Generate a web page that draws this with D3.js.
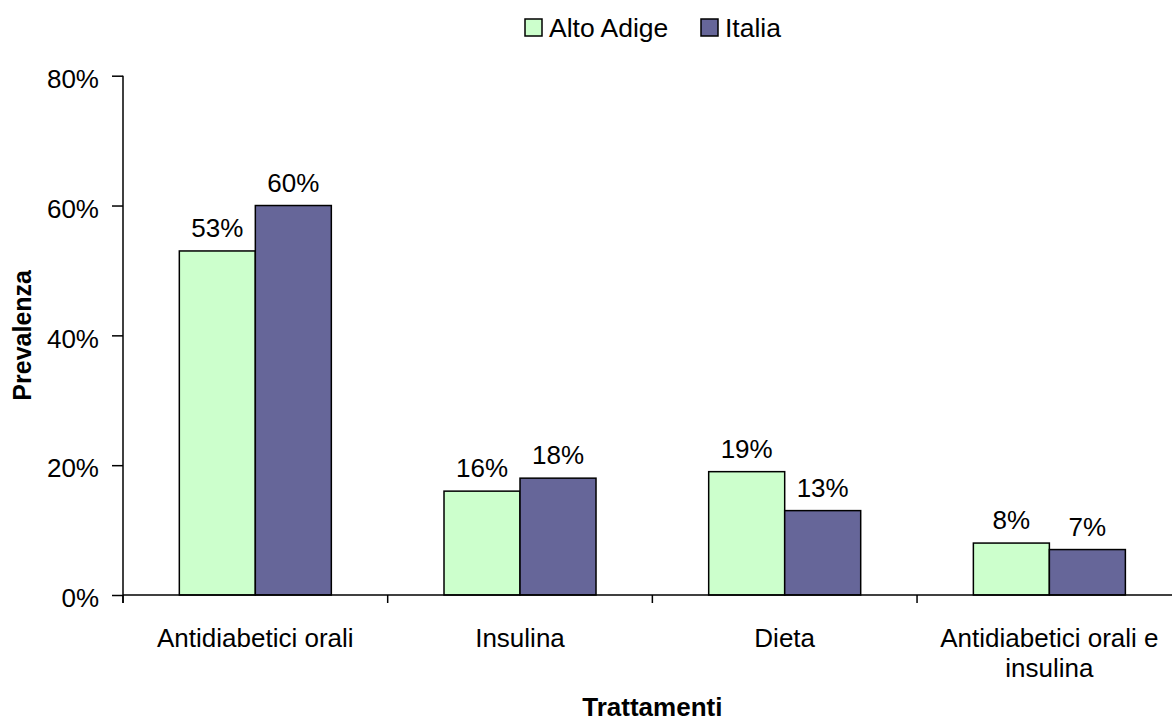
<!DOCTYPE html>
<html>
<head>
<meta charset="utf-8">
<script src="https://cdn.jsdelivr.net/npm/d3@7"></script>
<style>
  html, body { margin: 0; padding: 0; background: #fff; }
  svg { display: block; font-family: "Liberation Sans", Arial, sans-serif; }
</style>
</head>
<body>
<svg id="chart" width="1172" height="725"></svg>
<script>
// Treatment categories and their axis labels (wrapped as drawn)
const categories = ["Antidiabetici orali", "Insulina", "Dieta", "Antidiabetici orali e insulina"];
const categoryLabels = [["Antidiabetici orali"], ["Insulina"], ["Dieta"], ["Antidiabetici orali e", "insulina"]];

// Series
const seriesNames = ["Alto Adige", "Italia"];
const altoAdige = [0.53, 0.16, 0.19, 0.08];
const italia = [0.60, 0.18, 0.13, 0.07];
const seriesColors = ["#CCFFCC", "#666699"];

// Y ticks
const yTicks = [0, 0.2, 0.4, 0.6, 0.8];

(function draw() {
  const seriesValues = [altoAdige, italia];
  const rows = categories.map((c, i) => ({
    category: c,
    values: seriesNames.map((s, j) => ({ series: s, value: seriesValues[j][i], color: seriesColors[j] }))
  }));

  const svg = d3.select("#chart");
  const fontSize = 26;
  const plotLeft = 123, plotRight = 1181.7, plotTop = 75.7, plotBottom = 595;

  const x = d3.scaleBand()
    .domain(categories)
    .range([plotLeft, plotRight])
    .paddingInner(0.4257)
    .paddingOuter(0.2128);

  const xInner = d3.scaleBand()
    .domain(seriesNames)
    .range([0, x.bandwidth()]);

  const y = d3.scaleLinear().domain([0, 0.8]).range([plotBottom, plotTop]);

  const pct = d3.format(".0%");

  // Bars
  const groups = svg.append("g").selectAll("g")
    .data(rows)
    .join("g")
    .attr("transform", d => `translate(${x(d.category)},0)`);

  groups.selectAll("rect")
    .data(d => d.values)
    .join("rect")
    .attr("x", d => xInner(d.series))
    .attr("y", d => y(d.value))
    .attr("width", xInner.bandwidth())
    .attr("height", d => y(0) - y(d.value))
    .attr("fill", d => d.color)
    .attr("stroke", "#000")
    .attr("stroke-width", 1.5);

  // Value labels
  groups.selectAll("text")
    .data(d => d.values)
    .join("text")
    .attr("x", d => xInner(d.series) + xInner.bandwidth() / 2)
    .attr("y", d => y(d.value) - 14)
    .attr("text-anchor", "middle")
    .attr("font-size", fontSize)
    .attr("fill", "#000")
    .text(d => pct(d.value));

  // Y axis
  const yAxis = svg.append("g")
    .attr("transform", `translate(${plotLeft},0)`)
    .call(d3.axisLeft(y).tickValues(yTicks).tickFormat(pct).tickSize(11).tickPadding(13));
  yAxis.select(".domain").attr("d", `M0,${plotTop}V${plotBottom + 8}`).attr("stroke", "#000").attr("stroke-width", 1.5);
  yAxis.selectAll(".tick line").attr("stroke", "#000").attr("stroke-width", 1.5);
  yAxis.selectAll(".tick text")
    .attr("font-size", fontSize)
    .attr("font-family", "Liberation Sans, Arial, sans-serif")
    .attr("fill", "#000")
    .attr("dy", "0.45em");

  // X axis line and category boundary ticks
  const xAxis = svg.append("g");
  xAxis.append("line")
    .attr("x1", plotLeft).attr("x2", 1172)
    .attr("y1", plotBottom).attr("y2", plotBottom)
    .attr("stroke", "#000").attr("stroke-width", 1.5);
  const boundaries = d3.range(categories.length + 1).map(i => plotLeft + i * x.step());
  xAxis.selectAll("line.tick")
    .data(boundaries)
    .join("line")
    .attr("class", "tick")
    .attr("x1", d => d).attr("x2", d => d)
    .attr("y1", plotBottom).attr("y2", plotBottom + 8)
    .attr("stroke", "#000").attr("stroke-width", 1.5);

  // Category labels
  const catText = xAxis.selectAll("text.cat")
    .data(categories)
    .join("text")
    .attr("class", "cat")
    .attr("x", d => x(d) + x.bandwidth() / 2)
    .attr("y", 647)
    .attr("text-anchor", "middle")
    .attr("font-size", fontSize)
    .attr("fill", "#000");
  catText.selectAll("tspan")
    .data((d, i) => categoryLabels[i])
    .join("tspan")
    .attr("x", function() { return d3.select(this.parentNode).attr("x"); })
    .attr("dy", (d, i) => i === 0 ? 0 : 30)
    .text(d => d);

  // Axis titles
  svg.append("text")
    .attr("x", (plotLeft + plotRight) / 2)
    .attr("y", 716)
    .attr("text-anchor", "middle")
    .attr("font-size", fontSize)
    .attr("font-weight", "bold")
    .text("Trattamenti");

  svg.append("text")
    .attr("transform", `translate(31,${(plotTop + plotBottom) / 2}) rotate(-90)`)
    .attr("text-anchor", "middle")
    .attr("font-size", 25)
    .attr("font-weight", "bold")
    .text("Prevalenza");

  // Legend
  const legendItems = [
    { name: seriesNames[0], color: seriesColors[0], x: 525 },
    { name: seriesNames[1], color: seriesColors[1], x: 701 }
  ];
  const legend = svg.append("g").selectAll("g")
    .data(legendItems)
    .join("g")
    .attr("transform", d => `translate(${d.x},19)`);
  legend.append("rect")
    .attr("width", 17).attr("height", 17)
    .attr("fill", d => d.color)
    .attr("stroke", "#000").attr("stroke-width", 1.5);
  legend.append("text")
    .attr("x", 24).attr("y", 17.5)
    .attr("font-size", 26.5)
    .attr("fill", "#000")
    .text(d => d.name);
})();
</script>
</body>
</html>
